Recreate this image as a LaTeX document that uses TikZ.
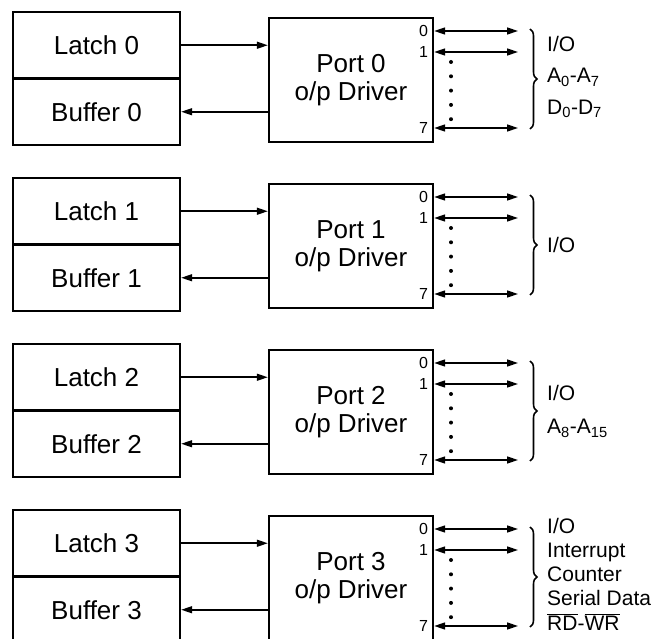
\documentclass[tikz,border=0pt]{standalone}
\usepackage{fontspec}
\setmainfont{Liberation Sans}
\usetikzlibrary{arrows.meta,decorations.pathreplacing}
\begin{document}
\begin{tikzpicture}[x=1pt,y=-1pt,
  box/.style={draw, line width=2.4pt, rectangle, inner sep=0pt, font=\fontsize{26}{28}\selectfont},
  lbbox/.style={box, minimum width=167pt, minimum height=66.5pt},
  portbox/.style={box, minimum width=164pt, minimum height=124pt, align=center},
  arr/.style={line width=1.6pt, -{Triangle[length=11pt,width=7pt]}},
  darr/.style={line width=1.6pt, {Triangle[length=11pt,width=7pt]}-{Triangle[length=11pt,width=7pt]}},
  pinlab/.style={font=\fontsize{16}{16}\selectfont, anchor=east, inner sep=0pt, xshift=-6pt},
  sig/.style={anchor=west, align=left, inner sep=0pt},
  brc/.style={decorate, decoration={brace, amplitude=7pt}, line width=1.6pt}
]
\useasboundingbox (0,0) rectangle (657,639);
\clip (0,0) rectangle (657,639);
\foreach \i/\T in {0/12,1/178,2/344,3/510} {
  \node[lbbox] (L\i) at (96.5,\T+33.25) {Latch \i};
  \node[lbbox] (B\i) at (96.5,\T+99.75) {Buffer \i};
  \node[portbox] (P\i) at (351,\T+68) {Port \i\\o/p Driver};
  \draw[arr] (L\i.east) -- (L\i.east -| P\i.west);
  \draw[arr] (B\i.east -| P\i.west) -- (B\i.east);
  \coordinate (a\i) at (518,\T+19);
  \coordinate (b\i) at (518,\T+40);
  \coordinate (c\i) at (518,\T+116);
  \draw[darr] (P\i.east |- a\i) -- (a\i);
  \draw[darr] (P\i.east |- b\i) -- (b\i);
  \draw[darr] (P\i.east |- c\i) -- (c\i);
  \node[pinlab] (p0\i) at (P\i.east |- a\i) {0};
  \node[pinlab] (p1\i) at (P\i.east |- b\i) {1};
  \node[pinlab] (p7\i) at (P\i.east |- c\i) {7};
  \foreach \k in {0,...,4} \fill (451,\T+50+14.3*\k) circle (2pt);
  \coordinate (bt\i) at (530,\T+17);
  \coordinate (bb\i) at (530,\T+117);
  \draw[brc] (bt\i) -- (bb\i);
}
\node[sig, font=\fontsize{21}{31.5}\selectfont] (s0) at (547,77)
  {I/O\\A\textsubscript{0}-A\textsubscript{7}\\D\textsubscript{0}-D\textsubscript{7}};
\node[sig, font=\fontsize{21}{24}\selectfont] (s1) at (547,245) {I/O};
\node[sig, font=\fontsize{21}{33}\selectfont] (s2) at (547,411.5)
  {I/O\\A\textsubscript{8}-A\textsubscript{15}};
\node[sig, font=\fontsize{21}{24.2}\selectfont] (s3) at (547,574)
  {I/O\\Interrupt\\Counter\\Serial Data\\$\overline{\mbox{RD}}$-$\overline{\mbox{WR}}$};
\end{tikzpicture}
\end{document}
